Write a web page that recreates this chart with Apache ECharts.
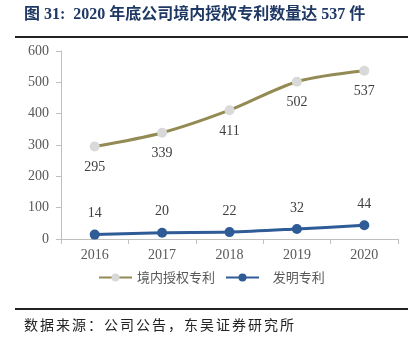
<!DOCTYPE html>
<html><head><meta charset="utf-8">
<script src="https://cdn.jsdelivr.net/npm/echarts@6/dist/echarts.min.js"></script>
<style>html,body{margin:0;padding:0;background:#fff}#c{width:413px;height:349px}</style>
</head><body><div id="c"></div>
<script>
const categories = ['2016','2017','2018','2019','2020'];
const domesticPatents = [295, 339, 411, 502, 537];
const inventionPatents = [14, 20, 22, 32, 44];
const seriesNames = ['境内授权专利', '发明专利'];
const titleText = '图 31:  2020 年底公司境内授权专利数量达 537 件';
const sourceText = '数据来源：公司公告，东吴证券研究所';

const chart = echarts.init(document.getElementById('c'));
const serif = '"Liberation Serif","Times New Roman",serif';
const cjk = '"Liberation Serif","Noto Sans CJK SC",sans-serif';
const sourceChars = Array.from(sourceText).map((ch, i) => ({
  type: 'text', left: 24 + i * 16, top: 318,
  style: {text: ch, font: '14px "Noto Sans CJK SC",sans-serif', fill: '#222'}
}));
chart.setOption({
  animation: false,
  backgroundColor: '#fff',
  grid: {left: 61, right: 15, top: 51, bottom: 110},
  graphic: [
    {type: 'text', left: 24, top: 7, style: {text: titleText, font: 'bold 16px ' + cjk, fill: '#1F3864'}},
    {type: 'line', shape: {x1: 15, y1: 37, x2: 408, y2: 37}, style: {stroke: '#222', lineWidth: 2}},
    {type: 'line', shape: {x1: 15, y1: 309, x2: 408, y2: 309}, style: {stroke: '#222', lineWidth: 2}}
  ].concat(sourceChars),
  legend: {
    left: 93, top: 266, itemWidth: 33, itemHeight: 10, itemGap: 10,
    textStyle: {fontFamily: '"Noto Sans CJK SC",sans-serif', fontSize: 13, color: '#595959'},
    formatter: n => n === '发明专利' ? '   ' + n : n,
    data: seriesNames
  },
  xAxis: {
    type: 'category', data: categories, boundaryGap: true,
    axisLine: {lineStyle: {color: '#BFBFBF'}},
    axisTick: {show: true, length: 5, lineStyle: {color: '#BFBFBF'}},
    axisLabel: {fontFamily: serif, fontSize: 14, color: '#595959', margin: 9}
  },
  yAxis: {
    type: 'value', min: 0, max: 600, interval: 100,
    splitLine: {show: false},
    axisLine: {show: true, lineStyle: {color: '#BFBFBF'}},
    axisTick: {show: true, length: 5, lineStyle: {color: '#BFBFBF'}},
    axisLabel: {fontFamily: serif, fontSize: 14, color: '#595959', margin: 12}
  },
  series: [
    {
      name: seriesNames[0], type: 'line', data: domesticPatents, smooth: 0.3,
      symbol: 'circle', symbolSize: 10,
      lineStyle: {color: '#948A54', width: 3},
      itemStyle: {color: '#D9D9D9', borderWidth: 0},
      label: {show: true, position: 'bottom', distance: 9, fontFamily: serif, fontSize: 14, color: '#404040'}
    },
    {
      name: seriesNames[1], type: 'line', data: inventionPatents, smooth: 0.3,
      symbol: 'circle', symbolSize: 10,
      lineStyle: {color: '#2F5C97', width: 3},
      itemStyle: {color: '#2F5C97'},
      label: {show: true, position: 'top', distance: 9, fontFamily: serif, fontSize: 14, color: '#404040'}
    }
  ]
});
</script></body></html>
